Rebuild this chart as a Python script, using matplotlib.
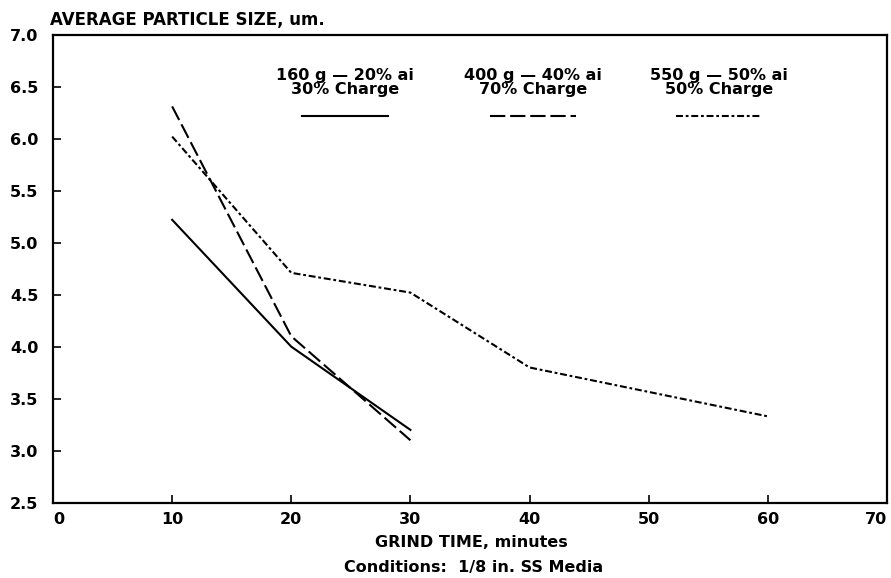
import matplotlib
matplotlib.use("Agg")
import matplotlib.pyplot as plt

# grind time (minutes) and average particle size (um) for each run
time_a = [10, 20, 30]
size_a = [5.22, 4.0, 3.2]
time_b = [10, 20, 30]
size_b = [6.31, 4.1, 3.1]
time_c = [10, 20, 30, 40, 60]
size_c = [6.02, 4.71, 4.52, 3.8, 3.33]

labels_top = ["160 g \u2014 20% ai", "400 g \u2014 40% ai", "550 g \u2014 50% ai"]
labels_bot = ["30% Charge", "70% Charge", "50% Charge"]

plt.rcParams['font.family'] = ['DejaVu Sans']
plt.rcParams['font.weight'] = 'bold'
plt.rcParams['lines.scale_dashes'] = False

fig = plt.figure(figsize=(8.91, 5.78), dpi=100)
ax = fig.add_axes([0.0595, 0.1303, 0.936, 0.8097])

styles = [
    dict(linestyle='-'),
    dict(linestyle=(0, (11, 3.5))),
    dict(linestyle=(0, (5, 2, 2, 2))),
]

ax.plot(time_a, size_a, color='black', lw=1.5, **styles[0])
ax.plot(time_b, size_b, color='black', lw=1.5, **styles[1])
ax.plot(time_c, size_c, color='black', lw=1.5, **styles[2])

# hand-made key: two lines of text with a line sample under them
key_x = [24.5, 40.3, 55.9]
key_half = 3.6
for kk in range(3):
    ax.text(key_x[kk], 6.56, labels_top[kk], ha='center', va='baseline', fontsize=11.5)
    ax.text(key_x[kk], 6.43, labels_bot[kk], ha='center', va='baseline', fontsize=11.5)
    ax.plot([key_x[kk] - key_half, key_x[kk] + key_half], [6.22, 6.22],
            color='black', lw=1.5, **styles[kk])

ax.set_xlim(0, 70)
ax.set_ylim(2.5, 7.0)
ax.set_xticks(range(0, 71, 10))
ax.set_yticks([2.5, 3.0, 3.5, 4.0, 4.5, 5.0, 5.5, 6.0, 6.5, 7.0])
ax.set_yticklabels(["%.1f" % v for v in ax.get_yticks()])

ax.tick_params(axis='y', direction='in', length=6, width=1.2, pad=10.5, labelsize=11.5)
ax.tick_params(axis='x', direction='in', length=6, width=1.2, pad=6.5, labelsize=11.5)
xlabs = ax.get_xticklabels()
xlabs[0].set_horizontalalignment('left')
xlabs[-1].set_horizontalalignment('right')
for sp in ax.spines.values():
    sp.set_linewidth(1.6)

fig.text(0.056, 0.9567, "AVERAGE PARTICLE SIZE, um.", ha='left', va='baseline', fontsize=12)
fig.text(0.529, 0.0542, "GRIND TIME, minutes", ha='center', va='baseline', fontsize=11.5)
fig.text(0.532, 0.0104, "Conditions:  1/8 in. SS Media", ha='center', va='baseline', fontsize=11.5)

fig.savefig("out.png", dpi=100)
